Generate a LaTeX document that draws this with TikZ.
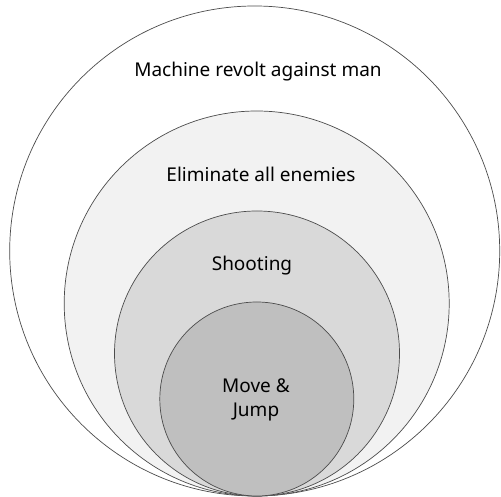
\documentclass[tikz,border=0pt]{standalone}
\usepackage{fontspec}
\setmainfont{Noto Sans}
\usetikzlibrary{positioning}
\definecolor{ringA}{HTML}{FFFFFF}
\definecolor{ringB}{HTML}{F2F2F2}
\definecolor{ringC}{HTML}{D9D9D9}
\definecolor{ringD}{HTML}{BFBFBF}
\tikzset{
  ring/.style={circle, draw=black!70, line width=0.7pt, inner sep=0pt, outer sep=0pt},
  lbl/.style={text=black, align=center, font=\fontsize{19}{24}\selectfont, inner sep=0pt},
}
\begin{document}
\begin{tikzpicture}[x=1pt, y=1pt]
\useasboundingbox (0,0) rectangle (501,497);
\node[ring, fill=ringA, minimum size=490] (goal) at (254.7,246) {};
\node[ring, fill=ringB, minimum size=385] (mission) at (256.7,193.5) {};
\node[ring, fill=ringC, minimum size=285] (shoot) at (257,143.5) {};
\node[ring, fill=ringD, minimum size=194] (move) at (256.8,98) {};
\node[lbl] (goaltxt) at (258,425) {Machine revolt against man};
\node[lbl] (missiontxt) at (261,323) {Eliminate all enemies};
\node[lbl] (shoottxt) at (252,231) {Shooting};
\node[lbl] (movetxt) at (256,97) {Move \&\\ Jump};
\end{tikzpicture}
\end{document}
